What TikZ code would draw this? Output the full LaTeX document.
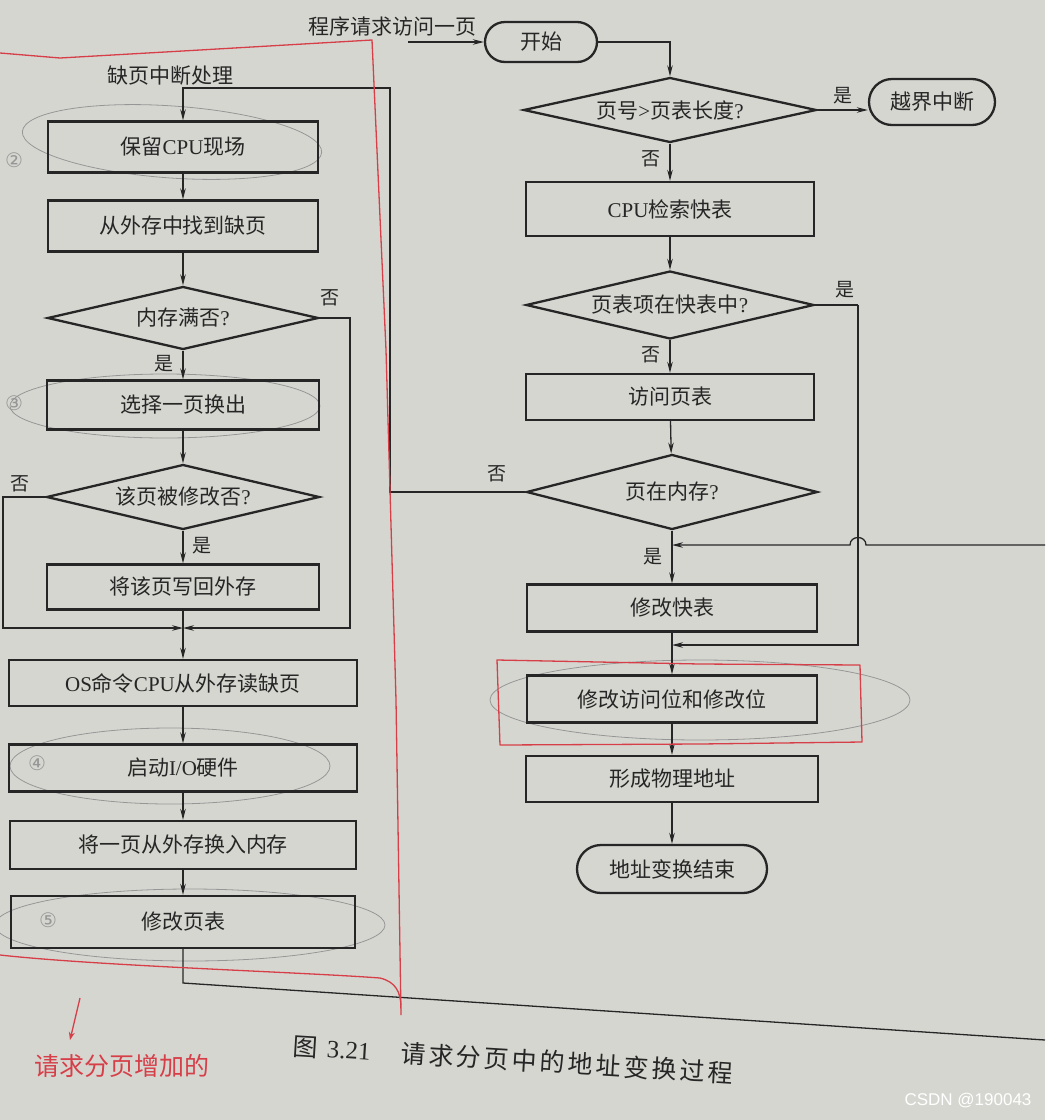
\documentclass[tikz,border=0pt]{standalone}
\usepackage{fontspec}
\setmainfont{Liberation Serif}
\newfontfamily\cjk{Noto Sans CJK SC}
\newfontfamily\cjkcap{Noto Sans CJK SC}[LetterSpace=12]
\newfontfamily\symf{DejaVu Sans}
\newfontfamily\wmf{Liberation Sans}
\usetikzlibrary{shapes.geometric,arrows.meta,calc}
\newcommand\mylat[1]{{\rmfamily #1}}
\definecolor{paper}{RGB}{214,214,209}
\definecolor{ink}{RGB}{38,38,38}
\definecolor{redpen}{RGB}{214,62,72}
\definecolor{pencil}{RGB}{150,150,150}
\begin{document}
\begin{tikzpicture}[x=1pt,y=-1pt,
  every node/.style={font=\cjk\fontsize{21}{25}\selectfont, text=ink},
  box/.style={draw=ink, line width=2.3pt, rectangle, minimum height=47pt, inner sep=0pt},
  dec/.style={draw=ink, line width=2.3pt, diamond, aspect=4.5, inner sep=0pt},
  term/.style={draw=ink, line width=2.3pt, rectangle, rounded corners=22pt, minimum height=45pt, inner sep=0pt},
  conn/.style={draw=ink, line width=1.3pt},
  arr/.style={conn, -{Stealth[length=11pt,width=5.5pt]}},
  yn/.style={font=\cjk\fontsize{19}{22}\selectfont},
  redline/.style={draw=redpen, line width=1.3pt, line join=round},
  pen/.style={draw=pencil, line width=0.8pt},
]
\fill[paper] (0,0) rectangle (1045,1120);
\useasboundingbox (0,0) rectangle (1045,1120);

% ---------- pencil marks ----------
\draw[pen, rotate around={-4:(172,142)}] (172,142) ellipse [x radius=150, y radius=36];
\draw[pen] (165,406) ellipse [x radius=155, y radius=32];
\draw[pen] (170,766) ellipse [x radius=160, y radius=38];
\draw[pen] (190,925) ellipse [x radius=195, y radius=36];
\draw[pen] (700,700) ellipse [x radius=210, y radius=40];
\node[font=\symf\fontsize{20}{24}\selectfont, text=pencil] (c2) at (14,160) {②};
\node[font=\symf\fontsize{20}{24}\selectfont, text=pencil] (c3) at (14,403) {③};
\node[font=\symf\fontsize{20}{24}\selectfont, text=pencil] (c4) at (37,763) {④};
\node[font=\symf\fontsize{20}{24}\selectfont, text=pencil] (c5) at (48,920) {⑤};

% ---------- left column ----------
\node (lab) at (170,76) {缺页中断处理};
\node[box, minimum width=270pt, minimum height=51pt] (b1) at (183,147) {保留\mylat{CPU}现场};
\node[box, minimum width=270pt, minimum height=51pt] (b2) at (183,226) {从外存中找到缺页};
\node[dec, minimum width=271pt, minimum height=63pt] (d1) at (183,318) {内存满否\mylat{?}};
\node[box, minimum width=272pt, minimum height=49pt] (b3) at (183,405) {选择一页换出};
\node[dec, minimum width=273pt, minimum height=65pt] (d2) at (183,497) {该页被修改否\mylat{?}};
\node[box, minimum width=272pt, minimum height=45pt] (b4) at (183,587) {将该页写回外存};
\coordinate (m1) at (183,628);
\node[box, minimum width=348pt, minimum height=46pt] (b5) at (183,683) {\mylat{OS}命令\mylat{CPU}从外存读缺页};
\node[box, minimum width=348pt, minimum height=47pt] (b6) at (183,768) {启动\mylat{I/O}硬件};
\node[box, minimum width=346pt, minimum height=48pt] (b7) at (183,845) {将一页从外存换入内存};
\node[box, minimum width=344pt, minimum height=52pt] (b8) at (183,922) {修改页表};

% ---------- right column ----------
\node (req) at (392,26) {程序请求访问一页};
\coordinate (rq) at (408,42);
\node[term, minimum width=112pt, minimum height=40pt, rounded corners=20pt] (s) at (541,42) {开始};
\node[dec, minimum width=293pt, minimum height=65pt] (d3) at (670,110) {页号\mylat{>}页表长度\mylat{?}};
\node[term, minimum width=126pt, minimum height=46pt, rounded corners=23pt] (t2) at (932,102) {越界中断};
\node[box, minimum width=288pt, minimum height=54pt] (b9) at (670,209) {\mylat{CPU}检索快表};
\node[dec, minimum width=288pt, minimum height=68pt] (d4) at (670,305) {页表项在快表中\mylat{?}};
\node[box, minimum width=288pt, minimum height=46pt] (b10) at (670,397) {访问页表};
\node[dec, minimum width=291pt, minimum height=75pt] (d5) at (672,492) {页在内存\mylat{?}};
\node[box, minimum width=290pt, minimum height=47pt] (b11) at (672,608) {修改快表};
\node[box, minimum width=290pt, minimum height=47pt] (b12) at (672,699) {修改访问位和修改位};
\node[box, minimum width=292pt, minimum height=46pt] (b13) at (672,779) {形成物理地址};
\node[term, minimum width=190pt, minimum height=48pt, rounded corners=24pt] (t3) at (672,869) {地址变换结束};
\coordinate (j1) at (672,545);
\coordinate (j2) at (672,645);
\coordinate (entR) at (1045,545);
\coordinate (exitR) at (1045,1040);

% ---------- connectors: left ----------
\draw[arr] (b1) -- (b2);
\draw[arr] (b2) -- (d1);
\draw[arr] (d1) -- (b3) node[yn, pos=0.45, left=6pt] (y1) {是};
\draw[arr] (d1.east) -| (350,628) -- (m1);
\node[yn] (n1) at (330,298) {否};
\draw[arr] (b3) -- (d2);
\draw[arr] (d2) -- (b4) node[yn, pos=0.45, right=6pt] (y2) {是};
\draw[arr] (d2.west) -| (3,628) -- (m1);
\node[yn] (n2) at (20,484) {否};
\draw[conn] (b4) -- (m1);
\draw[arr] (m1) -- (b5);
\draw[arr] (b5) -- (b6);
\draw[arr] (b6) -- (b7);
\draw[arr] (b7) -- (b8);
\draw[conn] (b8.south) -- (183,983) -- (exitR);

% ---------- connectors: right ----------
\draw[arr] (rq) -- (s.west);
\draw[arr] (s.east) -| (d3.north);
\draw[arr] (d3.east) -- (d3.east -| t2.west) node[yn, midway, above=2pt] (y3) {是};
\draw[arr] (d3) -- (b9) node[yn, pos=0.4, left=6pt] (n3) {否};
\draw[arr] (b9) -- (d4);
\draw[conn] (d4.east) -- (858,305) node[yn, pos=0.5, above=3pt, xshift=8pt] (y4) {是};
\draw[arr] (858,305) -- (858,645) -- (j2);
\draw[arr] (d4) -- (b10) node[yn, pos=0.45, left=6pt] (n4) {否};
\draw[arr] (b10) -- (d5);
\draw[arr] (d5.west) -| (390,88) -| (b1.north);
\node[yn] (n5) at (497,474) {否};
\draw[arr] (d5) -- (b11) node[yn, pos=0.5, left=6pt] (y5) {是};
\draw[arr] (entR) -- (866,545) .. controls (866,535) and (850,535) .. (850,545) -- (j1);
\draw[arr] (b11) -- (b12);
\draw[arr] (b12) -- (b13);
\draw[arr] (b13) -- (t3);

% ---------- red pen ----------
\draw[redline] (0,53) -- (60,58) -- (200,50) -- (372,40) -- (386,350) -- (396,700) -- (401,1015);
\draw[redline] (0,955) .. controls (100,966) and (300,972) .. (380,978) .. controls (396,982) and (400,992) .. (401,1005);
\draw[redline] (497,660) -- (700,664) -- (860,665) -- (862,742) -- (700,744) -- (500,745) -- cycle;
\draw[redline, -{Stealth[length=8pt,width=6pt]}] (80,998) -- (70,1040);
\node[text=redpen, font=\cjk\fontsize{25}{30}\selectfont] (hw) at (122,1066) {请求分页增加的};

% ---------- caption ----------
\node[anchor=west, rotate=-3.5, font=\cjkcap\fontsize{25}{30}\selectfont] (cap) at (290,1046) {图 \mylat{3.21}\hspace{1.2em}请求分页中的地址变换过程};
\node[text=white, font=\wmf\fontsize{17}{20}\selectfont] (wm) at (968,1101) {CSDN @190043};
\end{tikzpicture}
\end{document}
